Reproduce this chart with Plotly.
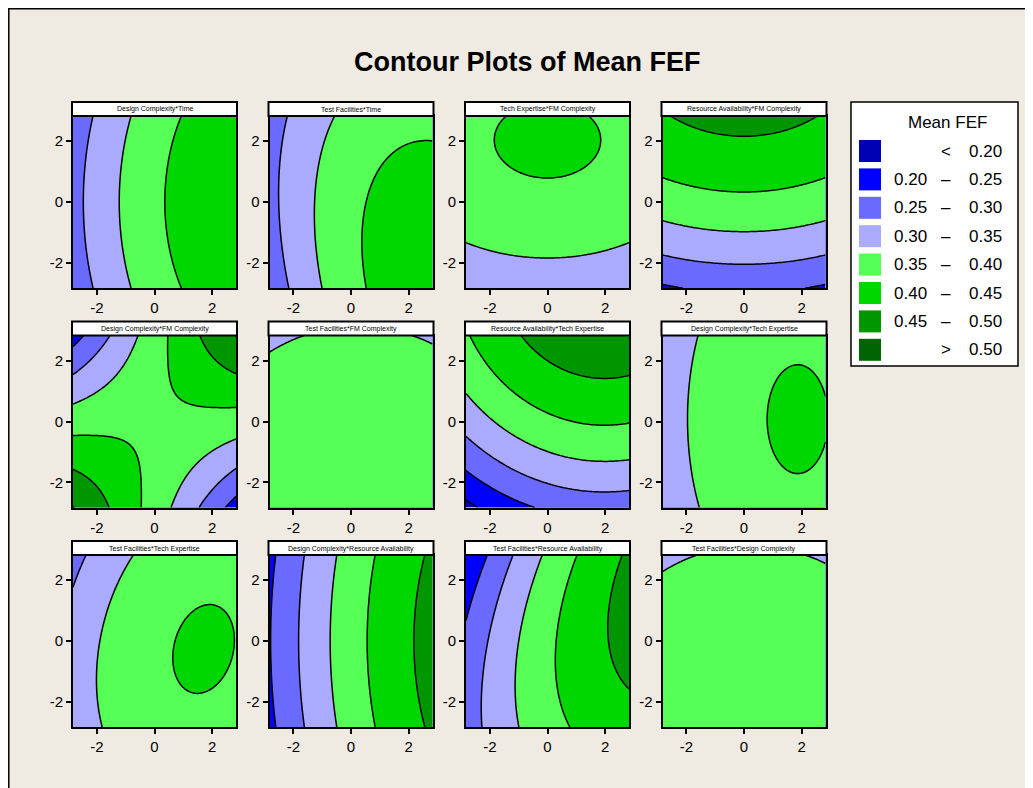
import numpy as np
import plotly.graph_objects as go

# ---------------- data ----------------
panel_titles = [
    "Design Complexity*Time", "Test Facilities*Time",
    "Tech Expertise*FM Complexity", "Resource Availability*FM Complexity",
    "Design Complexity*FM Complexity", "Test Facilities*FM Complexity",
    "Resource Availability*Tech Expertise", "Design Complexity*Tech Expertise",
    "Test Facilities*Tech Expertise", "Design Complexity*Resource Availability",
    "Test Facilities*Resource Availability", "Test Facilities*Design Complexity",
]
# fitted response-surface coefficients of Mean FEF for each panel (hold values = 0)
intercept = [0.3900, 0.3880, 0.3904, 0.3885, 0.3910, 0.3850, 0.3900, 0.3913, 0.3919, 0.3793, 0.3895, 0.3850]
lin_x     = [0.0290, 0.0250, 0.0000, 0.0000, 0.0000, 0.0007, 0.0147, 0.0138, 0.0143, 0.0385, 0.0360, 0.0007]
lin_y     = [0.0000, -0.0040, 0.0151, 0.0360, 0.0000, -0.0050, 0.0370, 0.0002, -0.0032, 0.0000, -0.0040, -0.0050]
quad_x    = [-0.0030, -0.0040, -0.0017, -0.0019, -0.0016, -0.0014, -0.0037, -0.0037, -0.0041, -0.0028, -0.0035, -0.0014]
quad_y    = [-0.0018, -0.0018, -0.0037, -0.0035, -0.0016, -0.0020, -0.0035, -0.0013, -0.0022, -0.0012, -0.0025, -0.0020]
inter_xy  = [0.0000, -0.0020, 0.0000, 0.0000, 0.0170, 0.0000, 0.0000, 0.0000, 0.0012, 0.0000, 0.0030, 0.0000]

axis_limit = 2.83
tick_vals = [-2, 0, 2]
tick_text = ["-2", "0", "2"]

level_start, level_end, level_step = 0.20, 0.50, 0.05
band_colors = ["#0000B4", "#0000FF", "#6A6AFF", "#AAAAFF", "#55FF55", "#00D600", "#009600", "#006400"]
legend_low  = ["", "0.20", "0.25", "0.30", "0.35", "0.40", "0.45", ""]
legend_mid  = ["<", "\u2013", "\u2013", "\u2013", "\u2013", "\u2013", "\u2013", ">"]
legend_high = ["0.20", "0.25", "0.30", "0.35", "0.40", "0.45", "0.50", "0.50"]
legend_title = "Mean FEF"
chart_title = "Contour Plots of Mean FEF"

# ---------------- layout constants (page pixels) ----------------
OX, OY = 8, 8                 # page margin of the html body
FW, FH = 1033 - OX, 788 - OY  # figure size that fits the window
panel_left = [73, 269.5, 466, 662.5]
panel_top = [116, 335.5, 555]
PW, PH = 163, 172
BG = "#EFEBE2"
FONT = "Liberation Sans, Arial, sans-serif"

def px(x):
    return (x - OX) / FW

def py(y):
    return 1 - (y - OY) / FH

grid = np.linspace(-axis_limit, axis_limit, 81)
GX, GY = np.meshgrid(grid, grid)

n = len(band_colors)
colorscale = [[k / (n - 1), band_colors[k]] for k in range(n)]

fig = go.Figure()
shapes = []
annotations = []

for i, title in enumerate(panel_titles):
    r, c = divmod(i, 4)
    left, top = panel_left[c], panel_top[r]
    z = (intercept[i] + lin_x[i] * GX + lin_y[i] * GY + quad_x[i] * GX ** 2
         + quad_y[i] * GY ** 2 + inter_xy[i] * GX * GY)
    suffix = "" if i == 0 else str(i + 1)
    fig.add_trace(go.Contour(
        x=grid, y=grid, z=z, xaxis="x" + suffix, yaxis="y" + suffix,
        colorscale=colorscale, showscale=False, autocontour=False,
        contours=dict(start=level_start, end=level_end, size=level_step,
                      coloring="fill", showlines=True),
        line=dict(color="black", width=1.5, smoothing=0),
        hoverinfo="skip",
    ))
    axis_common = dict(
        range=[-axis_limit, axis_limit], tickvals=tick_vals, ticktext=tick_text,
        ticks="outside", ticklen=5, tickwidth=1.5, tickcolor="black",
        showline=True, mirror=True, linewidth=2, linecolor="black",
        showgrid=False, zeroline=False, fixedrange=True,
        tickfont=dict(family=FONT, size=15, color="black"),
    )
    fig.layout["xaxis" + suffix] = dict(
        domain=[px(left), px(left + PW)], anchor="y" + suffix, **axis_common)
    fig.layout["yaxis" + suffix] = dict(
        domain=[py(top + PH), py(top)], anchor="x" + suffix, **axis_common)
    # title strip
    shapes.append(dict(type="rect", xref="paper", yref="paper",
                       x0=px(left - 1), x1=px(left + PW + 1), y0=py(top), y1=py(top - 14),
                       fillcolor="white", line=dict(color="black", width=2)))
    annotations.append(dict(text=title, xref="paper", yref="paper",
                            x=px(left + PW / 2), y=py(top - 6.5), showarrow=False,
                            xanchor="center", yanchor="middle",
                            font=dict(family=FONT, size=7, color="black")))

# outer frame
shapes.append(dict(type="line", xref="paper", yref="paper", x0=px(8.8), x1=px(8.8), y0=1, y1=0,
                   line=dict(color="black", width=1.5)))
shapes.append(dict(type="line", xref="paper", yref="paper", x0=px(8.8), x1=1, y0=py(8.8), y1=py(8.8),
                   line=dict(color="black", width=1.5)))

# legend box
shapes.append(dict(type="rect", xref="paper", yref="paper", x0=px(851), x1=px(1018),
                   y0=py(366), y1=py(102), fillcolor="white", line=dict(color="black", width=1.5)))
annotations.append(dict(text=legend_title, xref="paper", yref="paper", x=px(947), y=py(122),
                        showarrow=False, xanchor="center", yanchor="middle",
                        font=dict(family=FONT, size=17, color="black")))
for k in range(n):
    yc = 151 + k * 28.4
    shapes.append(dict(type="rect", xref="paper", yref="paper", x0=px(859), x1=px(881),
                       y0=py(yc + 11), y1=py(yc - 11), fillcolor=band_colors[k],
                       line=dict(width=0)))
    if legend_low[k]:
        annotations.append(dict(text=legend_low[k], xref="paper", yref="paper", x=px(929), y=py(yc),
                                showarrow=False, xanchor="right", yanchor="middle",
                                font=dict(family=FONT, size=17, color="black")))
    annotations.append(dict(text=legend_mid[k], xref="paper", yref="paper", x=px(946), y=py(yc),
                            showarrow=False, xanchor="center", yanchor="middle",
                            font=dict(family=FONT, size=17, color="black")))
    annotations.append(dict(text=legend_high[k], xref="paper", yref="paper", x=px(967), y=py(yc),
                            showarrow=False, xanchor="left", yanchor="middle",
                            font=dict(family=FONT, size=17, color="black")))

annotations.append(dict(text="<b>" + chart_title + "</b>", xref="paper", yref="paper",
                        x=px(527), y=py(62), showarrow=False, xanchor="center", yanchor="middle",
                        font=dict(family=FONT, size=27, color="black")))

fig.update_layout(width=FW, height=FH, autosize=False, margin=dict(l=0, r=0, t=0, b=0),
                  paper_bgcolor=BG, plot_bgcolor=BG, showlegend=False,
                  shapes=shapes, annotations=annotations)
fig.write_html("out.html")
